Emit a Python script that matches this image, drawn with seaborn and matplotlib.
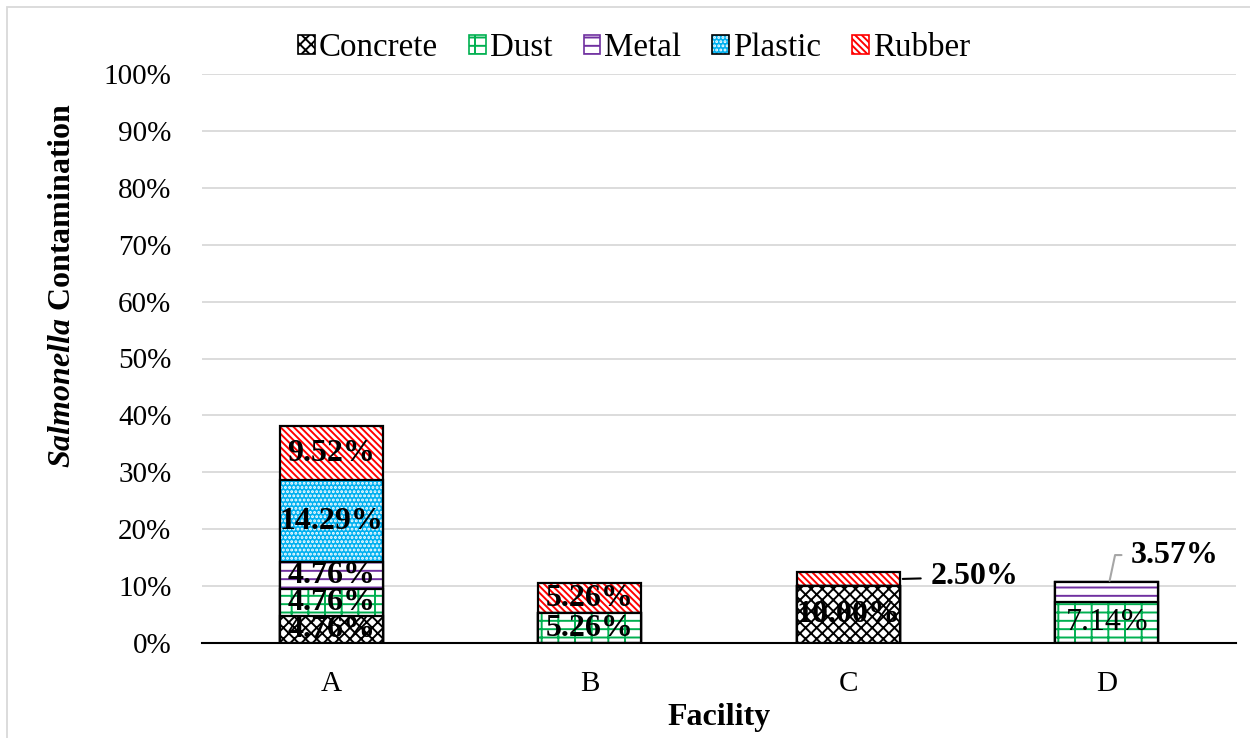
import matplotlib
matplotlib.use("Agg")
import matplotlib.pyplot as plt
from matplotlib.patches import Patch, Rectangle
from matplotlib.legend_handler import HandlerTuple
import pandas as pd
import seaborn as sns

# Contamination share (%) per surface type at each facility
facilities = ["A", "B", "C", "D"]
concrete = [4.76, 0.00, 10.00, 0.00]
dust = [4.76, 5.26, 0.00, 7.14]
metal = [4.76, 0.00, 0.00, 3.57]
plastic = [14.29, 0.00, 0.00, 0.00]
rubber = [9.52, 5.26, 2.50, 0.00]
y_ticks = [0, 10, 20, 30, 40, 50, 60, 70, 80, 90, 100]

materials = ["Concrete", "Dust", "Metal", "Plastic", "Rubber"]
values = {"Concrete": concrete, "Dust": dust, "Metal": metal,
          "Plastic": plastic, "Rubber": rubber}

# fill, hatch colour, hatch pattern for each material
styles = {
    "Concrete": ("white", "black", "xxx"),
    "Dust": ("white", "#00B050", "--|"),
    "Metal": ("white", "#7030A0", "--"),
    "Plastic": ("#00B0F0", "white", "...."),
    "Rubber": ("white", "#FF0000", "\\" * 5),
}

sns.set_theme(style="white")
plt.rcParams["font.family"] = ["Liberation Serif", "DejaVu Serif"]
plt.rcParams["text.color"] = "black"
plt.rcParams["mathtext.fontset"] = "custom"
plt.rcParams["mathtext.it"] = "Liberation Serif:italic:bold"
plt.rcParams["mathtext.rm"] = "Liberation Serif:bold"
plt.rcParams["hatch.linewidth"] = 1.4

df = pd.DataFrame({"Facility": facilities})
running = [0.0] * len(facilities)
for m in materials:
    running = [r + v for r, v in zip(running, values[m])]
    df["cum_" + m] = running

fig = plt.figure(figsize=(12.5, 7.38), dpi=100)
ax = fig.add_axes([202 / 1250, 1 - 643 / 738, 1034 / 1250, 569 / 738])

bar_w = 0.40
# stack drawn top layer first; each lower cumulative bar covers the one above it
for m in reversed(materials):
    face, hcol, hatch = styles[m]
    sns.barplot(data=df, x="Facility", y="cum_" + m, order=facilities,
                color=face, saturation=1, width=bar_w, edgecolor=hcol,
                linewidth=0, hatch=hatch, errorbar=None, ax=ax)
    sns.barplot(data=df, x="Facility", y="cum_" + m, order=facilities,
                facecolor="none", edgecolor="black", linewidth=1.6,
                width=bar_w, errorbar=None, ax=ax)

ax.set_ylim(0, 100)
ax.set_xlim(-0.5, len(facilities) - 0.5)
ax.set_yticks(y_ticks)
ax.set_yticklabels([f"{t}%" for t in y_ticks])
ax.yaxis.grid(True, color="#D9D9D9", linewidth=1.3)
ax.xaxis.grid(False)
ax.set_axisbelow(True)
for s in ["top", "right", "left"]:
    ax.spines[s].set_visible(False)
ax.spines["bottom"].set_color("black")
ax.spines["bottom"].set_linewidth(1.5)
ax.spines["bottom"].set_zorder(5)
ax.tick_params(axis="y", length=0, pad=22, labelsize=21, colors="black")
ax.tick_params(axis="x", length=0, pad=20, labelsize=21, colors="black")

# segment value labels
plain_labels = {("D", "Dust")}
bottoms = [0.0] * len(facilities)
for m in materials:
    for i, f in enumerate(facilities):
        v = values[m][i]
        if v <= 0:
            continue
        mid = bottoms[i] + v / 2
        top = bottoms[i] + v
        txt = f"{v:.2f}%"
        weight = "normal" if (f, m) in plain_labels else "bold"
        if v >= 4:
            ax.text(i, mid, txt, ha="center", va="center", fontsize=23,
                    fontweight=weight, color="black", zorder=10)
        elif m == "Rubber":
            ax.annotate(txt, xy=(i + bar_w / 2, mid), xytext=(31, 2),
                        textcoords="offset pixels", ha="left", va="center",
                        fontsize=23, fontweight="bold", color="black",
                        arrowprops=dict(arrowstyle="-", color="black", lw=1.5,
                                        shrinkA=5, shrinkB=2), zorder=10)
        else:
            ax.annotate(txt, xy=(i + 0.01, top), xytext=(21, 27),
                        textcoords="offset pixels", ha="left", va="center",
                        fontsize=23, fontweight="bold", color="black",
                        arrowprops=dict(arrowstyle="-", color="#A6A6A6", lw=1.5,
                                        shrinkA=4, shrinkB=1,
                                        connectionstyle="angle,angleA=0,angleB=78"),
                        zorder=10)
        bottoms[i] = top

ax.set_xlabel("Facility", fontsize=23, fontweight="bold", color="black")
ax.xaxis.set_label_coords(0.5, -0.106)
ax.xaxis.label.set_va("top")
ax.set_ylabel(r"$\mathit{Salmonella}$ Contamination", fontsize=23,
              fontweight="bold", color="black")
ax.yaxis.set_label_coords(-0.121, 0.629)

# legend
handles = []
for m in materials:
    face, hcol, hatch = styles[m]
    inner = Patch(facecolor=face, edgecolor=hcol, linewidth=0, hatch=hatch)
    outer = Patch(facecolor="none", edgecolor="black" if m in ("Concrete", "Plastic") else hcol,
                  linewidth=1.2)
    handles.append((inner, outer))
leg = fig.legend(handles, materials, loc="center", bbox_to_anchor=(634 / 1250, 1 - 48 / 738),
                 ncol=5, frameon=False, fontsize=23.8, handlelength=0.5, handleheight=0.5,
                 handletextpad=0.12, columnspacing=0.95, borderaxespad=0,
                 handler_map={tuple: HandlerTuple(ndivide=1, pad=0)})
for t in leg.get_texts():
    t.set_color("black")

# outer chart border
fig.patches.append(Rectangle((7 / 1250, -0.2), 1.2, 1.2 - 7 / 738, transform=fig.transFigure,
                             facecolor="none", edgecolor="#D9D9D9", linewidth=1.3))

fig.savefig("out.png", dpi=100)
